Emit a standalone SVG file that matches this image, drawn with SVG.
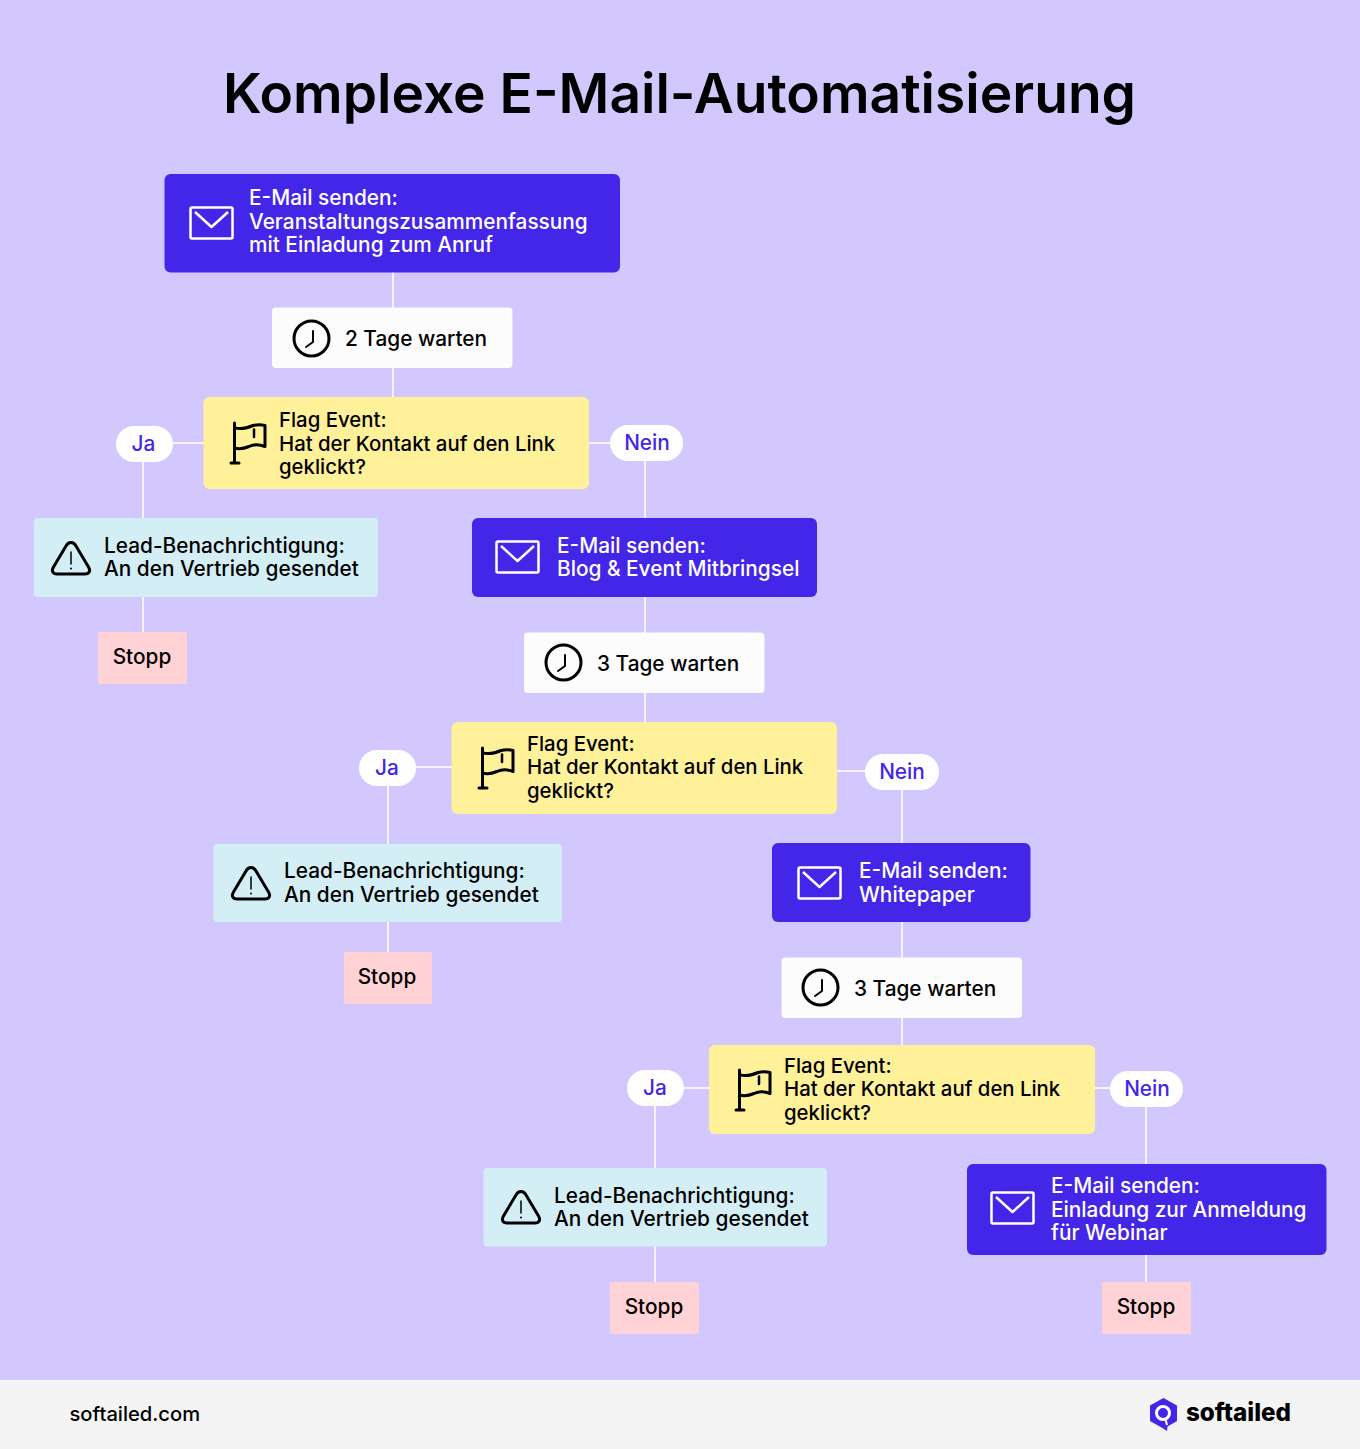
<svg xmlns="http://www.w3.org/2000/svg" width="1360" height="1449" viewBox="0 0 1360 1449">
<style>
text{font-family:Inter,"Noto Sans",sans-serif;font-weight:500;font-size:20.820px;fill:#000}
.title{font-size:55.100px;font-weight:600}
.w{fill:#fff}
.y{font-size:20.350px}
.p{fill:#4426e8;font-size:20.800px;text-anchor:middle}
.c{text-anchor:middle}
.blue{fill:#4426e8}.white{fill:#fcfcfc}.yellow{fill:#fff09a}.cyan{fill:#d4eef5}.pink{fill:#ffd2d6}.pill{fill:#fff}
.ln{stroke:#f6f3ff;stroke-width:2;fill:none}
.ic{fill:none;stroke:#000;stroke-width:3;stroke-linecap:round;stroke-linejoin:round}
.icw{fill:none;stroke:#fff;stroke-width:2.500;stroke-linejoin:round}
</style>
<defs>
<g id="mail"><rect x="0.500" y="0.500" width="42" height="31" rx="1.500" class="icw"/><path d="M5 5L21.500 20L38 5" class="icw"/></g>
<g id="clock"><circle cx="18.500" cy="18.500" r="17.500" class="ic"/><path d="M20 11V22L13 27" class="ic" style="stroke-width:2"/></g>
<g id="flag"><path d="M3.500 1V41M0 41H8" class="ic"/><path d="M3.500 5.500C9 8 16 6 22 3.500C26 2.500 30 2.500 34 3.500V24.500C28 22 23 22 18 24.500C12 27 7 27 3.500 26" class="ic"/><path d="M23 7.500V15" class="ic" style="stroke-width:2.500"/></g>
<g id="warn"><path d="M20 1.500C17.500 1.500 16 3 15 5L2.500 26C0 30 2 33 6 33H34C38 33 40 30 37.500 26L25 5C24 3 22.500 1.500 20 1.500Z" class="ic"/><path d="M20 11V23" class="ic" style="stroke-width:1.500"/><circle cx="20" cy="27.500" r="1" fill="#000"/></g>
</defs>
<rect id="background" width="1360" height="1449" fill="#d2c8fd"/>
<rect id="footer" y="1380" width="1360" height="69" fill="#f4f4f4"/>
<text class="title" x="223" y="113">Komplexe E-Mail-Automatisierung</text>

<g id="connectors" class="ln">
<path class="ln" d="M393 272V308M393 367V398M204 443H172M143 461V518M143 597V632M589 443H610M645 460V518M645 597V633M645 692V722"/>
<path class="ln" d="M452 767H416M388 785V844M388 922V952M837 771H865M902 790V844M902 922V958M902 1017V1046"/>
<path class="ln" d="M709 1088H684M655 1106V1168M655 1246V1283M1095 1088H1111M1146 1106V1165M1146 1255V1283"/>
</g>

<g id="n1"><rect class="blue" x="164.500" y="174" width="455.500" height="98.500" rx="6"/><use href="#mail" x="190" y="207"/><text class="w" x="249" y="205">E-Mail senden:</text><text class="w" x="249" y="229">Veranstaltungszusammenfassung</text><text class="w" x="249" y="252">mit Einladung zum Anruf</text></g>
<g id="w1"><rect class="white" x="272" y="307.500" width="240.500" height="60.500" rx="4"/><use href="#clock" x="293" y="320"/><text x="345" y="346">2 Tage warten</text></g>
<g id="f1"><rect class="yellow" x="203.500" y="397" width="385.500" height="92" rx="6"/><use href="#flag" x="231" y="422"/><text class="y" x="279" y="427">Flag Event:</text><text class="y" x="279" y="451">Hat der Kontakt auf den Link</text><text class="y" x="279" y="474">geklickt?</text></g>
<g id="ja1"><rect class="pill" x="116" y="426" width="57" height="36" rx="18"/><text class="p" x="143.500" y="451">Ja</text></g>
<g id="nein1"><rect class="pill" x="610" y="425" width="73" height="36" rx="18"/><text class="p" x="647" y="450">Nein</text></g>
<g id="l1"><rect class="cyan" x="34" y="518" width="344" height="79" rx="4"/><use href="#warn" x="51" y="541"/><text x="104" y="553">Lead-Benachrichtigung:</text><text x="104" y="576">An den Vertrieb gesendet</text></g>
<g id="s1"><rect class="pink" x="98" y="632" width="89" height="52" rx="2"/><text class="c" x="142" y="664">Stopp</text></g>
<g id="n2"><rect class="blue" x="472" y="518" width="345" height="79" rx="6"/><use href="#mail" x="496" y="541"/><text class="w" x="557" y="553">E-Mail senden:</text><text class="w" x="557" y="576">Blog &amp; Event Mitbringsel</text></g>
<g id="w2"><rect class="white" x="524" y="632.500" width="240.500" height="60.500" rx="4"/><use href="#clock" x="545" y="644"/><text x="597" y="671">3 Tage warten</text></g>
<g id="f2"><rect class="yellow" x="451.500" y="722" width="385.500" height="92" rx="6"/><use href="#flag" x="479" y="747"/><text class="y" x="527" y="751">Flag Event:</text><text class="y" x="527" y="774">Hat der Kontakt auf den Link</text><text class="y" x="527" y="798">geklickt?</text></g>
<g id="ja2"><rect class="pill" x="359" y="750" width="57" height="36" rx="18"/><text class="p" x="387" y="775">Ja</text></g>
<g id="nein2"><rect class="pill" x="865" y="754" width="74" height="36" rx="18"/><text class="p" x="902" y="779">Nein</text></g>
<g id="l2"><rect class="cyan" x="213.500" y="844" width="348.500" height="78" rx="4"/><use href="#warn" x="231" y="866"/><text x="284" y="878">Lead-Benachrichtigung:</text><text x="284" y="902">An den Vertrieb gesendet</text></g>
<g id="s2"><rect class="pink" x="344" y="952" width="88" height="52" rx="2"/><text class="c" x="387" y="984">Stopp</text></g>
<g id="n3"><rect class="blue" x="772" y="843" width="258.500" height="79" rx="6"/><use href="#mail" x="798" y="867"/><text class="w" x="859" y="878">E-Mail senden:</text><text class="w" x="859" y="902">Whitepaper</text></g>
<g id="w3"><rect class="white" x="781.500" y="957.500" width="240.500" height="60.500" rx="4"/><use href="#clock" x="802" y="969"/><text x="854" y="996">3 Tage warten</text></g>
<g id="f3"><rect class="yellow" x="709" y="1045" width="386" height="89" rx="6"/><use href="#flag" x="736" y="1069"/><text class="y" x="784" y="1073">Flag Event:</text><text class="y" x="784" y="1096">Hat der Kontakt auf den Link</text><text class="y" x="784" y="1120">geklickt?</text></g>
<g id="ja3"><rect class="pill" x="627" y="1070" width="57" height="36" rx="18"/><text class="p" x="655" y="1095">Ja</text></g>
<g id="nein3"><rect class="pill" x="1110" y="1071" width="73" height="36" rx="18"/><text class="p" x="1147" y="1096">Nein</text></g>
<g id="l3"><rect class="cyan" x="483.500" y="1168" width="343.500" height="78.500" rx="4"/><use href="#warn" x="501" y="1190"/><text x="554" y="1203">Lead-Benachrichtigung:</text><text x="554" y="1226">An den Vertrieb gesendet</text></g>
<g id="s3"><rect class="pink" x="610" y="1282" width="89" height="52" rx="2"/><text class="c" x="654" y="1314">Stopp</text></g>
<g id="n4"><rect class="blue" x="967" y="1164" width="359.500" height="91" rx="6"/><use href="#mail" x="991" y="1192"/><text class="w" x="1051" y="1193">E-Mail senden:</text><text class="w" x="1051" y="1217">Einladung zur Anmeldung</text><text class="w" x="1051" y="1240">für Webinar</text></g>
<g id="s4"><rect class="pink" x="1102" y="1282" width="89" height="52" rx="2"/><text class="c" x="1146" y="1314">Stopp</text></g>

<text x="69.500" y="1421" style="font-size:20.150px">softailed.com</text>
<g id="logo"><path d="M1163.500 1398L1177 1405.500V1421L1167.500 1426.500L1167 1431L1161.500 1427.500L1150 1421V1405.500Z" fill="#4426e8"/><circle cx="1163" cy="1413" r="6.500" fill="none" stroke="#fff" stroke-width="3"/><path d="M1165.500 1419L1167 1425" stroke="#fff" stroke-width="2" fill="none"/></g>
<text x="1186" y="1421" style="font-size:24.200px;font-weight:800">softailed</text>
</svg>
